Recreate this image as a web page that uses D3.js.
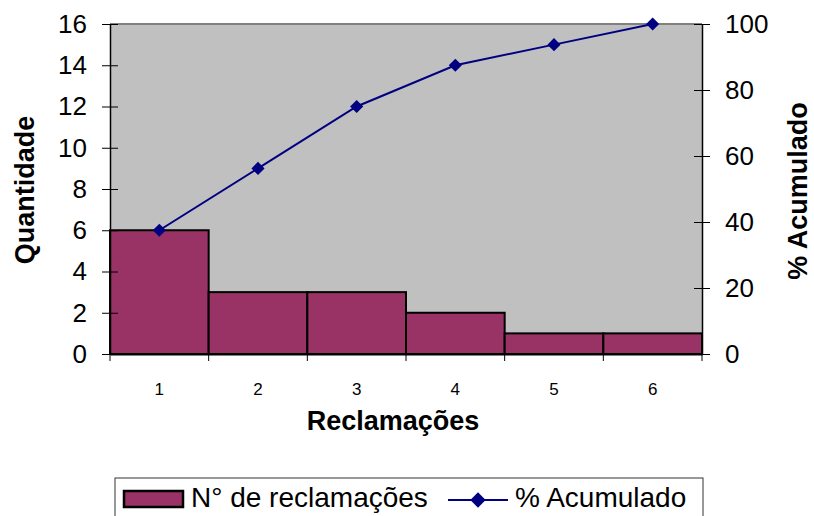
<!DOCTYPE html>
<html lang="pt">
<head>
    <meta charset="UTF-8">
    <title>Reclamações - Pareto</title>
    <script src="https://d3js.org/d3.v7.min.js"></script>
    <style>
        body { margin: 0; background: #fff; }
        text { font-family: "Liberation Sans", Arial, sans-serif; }
    </style>
</head>
<body>
    <svg width="814" height="516"></svg>

    <script>
        // Dados
        const categorias = ["1", "2", "3", "4", "5", "6"];
        const quantidade = [6, 3, 3, 2, 1, 1];
        const acumulado = [37.5, 56.25, 75, 87.5, 93.75, 100];
        const ticksEsq = [0, 2, 4, 6, 8, 10, 12, 14, 16];
        const ticksDir = [0, 20, 40, 60, 80, 100];

        const margin = { top: 24, right: 112, bottom: 162, left: 110 };
        const width = 814 - margin.left - margin.right;
        const height = 516 - margin.top - margin.bottom;

        const svg = d3.select("svg");
        const g = svg.append("g")
            .attr("transform", `translate(${margin.left},${margin.top})`);

        const x = d3.scaleBand().domain(categorias).range([0, width]).padding(0);
        const y = d3.scaleLinear().domain([0, 16]).range([height, 0]);
        const y2 = d3.scaleLinear().domain([0, 100]).range([height, 0]);

        // fundo cinza
        g.append("rect")
            .attr("width", width).attr("height", height)
            .attr("fill", "#c0c0c0");
        g.append("line")
            .attr("x1", 0).attr("x2", width).attr("y1", 0).attr("y2", 0)
            .attr("stroke", "#808080").attr("stroke-width", 2);

        // barras
        g.selectAll(".bar")
            .data(quantidade)
            .enter()
            .append("rect")
            .attr("class", "bar")
            .attr("x", (d, i) => x(categorias[i]))
            .attr("y", d => y(d))
            .attr("width", x.bandwidth())
            .attr("height", d => height - y(d))
            .attr("fill", "#993366")
            .attr("stroke", "#000")
            .attr("stroke-width", 2);

        // eixo esquerdo
        const eixoEsq = g.append("g")
            .call(d3.axisLeft(y).tickValues(ticksEsq).tickSize(0).tickPadding(23));
        eixoEsq.select(".domain").attr("stroke", "#000").attr("stroke-width", 1.5);
        eixoEsq.selectAll(".tick").append("line")
            .attr("x1", -8).attr("x2", 8).attr("stroke", "#000");
        eixoEsq.selectAll("text").attr("font-size", 26).attr("fill", "#000");

        // eixo direito
        const eixoDir = g.append("g")
            .attr("transform", `translate(${width},0)`)
            .call(d3.axisRight(y2).tickValues(ticksDir).tickSize(0).tickPadding(23));
        eixoDir.select(".domain").attr("stroke", "#000").attr("stroke-width", 1.5);
        eixoDir.selectAll(".tick").append("line")
            .attr("x1", -8).attr("x2", 8).attr("stroke", "#000");
        eixoDir.selectAll("text").attr("font-size", 26).attr("fill", "#000");

        // eixo inferior
        const eixoX = g.append("g")
            .attr("transform", `translate(0,${height})`)
            .call(d3.axisBottom(x).tickSize(0).tickPadding(29));
        eixoX.select(".domain").attr("stroke", "#000").attr("stroke-width", 2);
        eixoX.selectAll("text").attr("font-size", 17).attr("fill", "#000");
        g.append("g")
            .attr("transform", `translate(0,${height})`)
            .selectAll("line")
            .data(d3.range(categorias.length + 1))
            .enter()
            .append("line")
            .attr("x1", i => i * x.bandwidth()).attr("x2", i => i * x.bandwidth())
            .attr("y1", 0).attr("y2", 7)
            .attr("stroke", "#000");

        // linha acumulada
        const linha = d3.line()
            .x((d, i) => x(categorias[i]) + x.bandwidth() / 2)
            .y(d => y2(d));
        g.append("path")
            .datum(acumulado)
            .attr("d", linha)
            .attr("fill", "none")
            .attr("stroke", "#000080")
            .attr("stroke-width", 2);
        const diamante = d3.symbol().type(d3.symbolDiamond2).size(110);
        g.selectAll(".ponto")
            .data(acumulado)
            .enter()
            .append("path")
            .attr("class", "ponto")
            .attr("d", diamante)
            .attr("transform", (d, i) => `translate(${x(categorias[i]) + x.bandwidth() / 2},${y2(d)})`)
            .attr("fill", "#000080");

        // títulos dos eixos
        svg.append("text")
            .attr("transform", `translate(34,190) rotate(-90)`)
            .attr("text-anchor", "middle")
            .attr("font-size", 27).attr("font-weight", "bold")
            .text("Quantidade");
        svg.append("text")
            .attr("transform", `translate(807,191) rotate(-90)`)
            .attr("text-anchor", "middle")
            .attr("font-size", 27).attr("font-weight", "bold")
            .text("% Acumulado");
        svg.append("text")
            .attr("x", 393)
            .attr("y", 430)
            .attr("text-anchor", "middle")
            .attr("font-size", 27).attr("font-weight", "bold")
            .text("Reclamações");

        // legenda
        const leg = svg.append("g");
        leg.append("rect")
            .attr("x", 115).attr("y", 478).attr("width", 588).attr("height", 50)
            .attr("fill", "#fff").attr("stroke", "#333").attr("stroke-width", 1);
        leg.append("rect")
            .attr("x", 124).attr("y", 491).attr("width", 59).attr("height", 16)
            .attr("fill", "#993366").attr("stroke", "#000").attr("stroke-width", 2.5);
        leg.append("text")
            .attr("x", 191).attr("y", 507)
            .attr("font-size", 28)
            .text("N° de reclamações");
        leg.append("line")
            .attr("x1", 448).attr("x2", 508).attr("y1", 500).attr("y2", 500)
            .attr("stroke", "#000080").attr("stroke-width", 2);
        leg.append("path")
            .attr("d", d3.symbol().type(d3.symbolDiamond2).size(150))
            .attr("transform", "translate(478,500)")
            .attr("fill", "#000080");
        leg.append("text")
            .attr("x", 515).attr("y", 507)
            .attr("font-size", 28)
            .text("% Acumulado");
    </script>
</body>
</html>
